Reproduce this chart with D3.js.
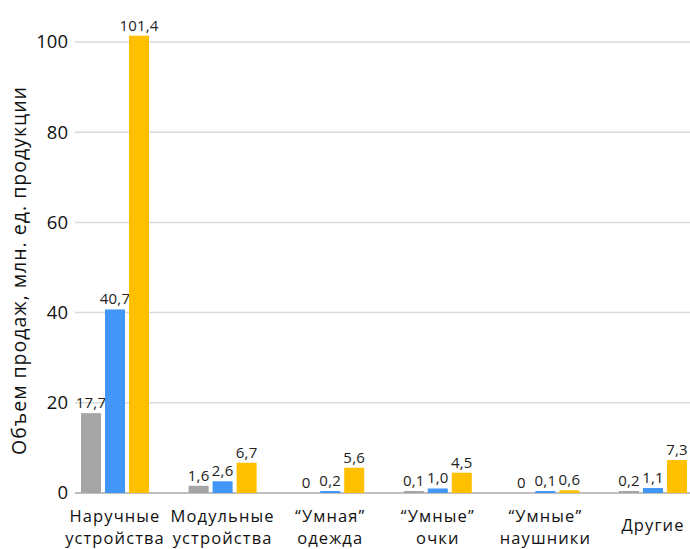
<!DOCTYPE html>
<html><head><meta charset="utf-8">
<script src="https://cdn.jsdelivr.net/npm/d3@7"></script>
<style>body{margin:0;background:#fff}svg{display:block}</style>
</head><body>
<svg id="c" width="690" height="549"></svg>
<script>
const categories = [["Наручные","устройства"],["Модульные","устройства"],["“Умная”","одежда"],["“Умные”","очки"],["“Умные”","наушники"],["Другие"]];
const seriesNames = ["s1","s2","s3"];
const series1 = [17.7, 1.6, 0, 0.1, 0, 0.2];
const series2 = [40.7, 2.6, 0.2, 1.0, 0.1, 1.1];
const series3 = [101.4, 6.7, 5.6, 4.5, 0.6, 7.3];
const yTicks = [0,20,40,60,80,100];
const colors = ["#A5A5A5","#4296F7","#FFC000"];

const svg = d3.select("#c");
const font = "'Open Sans', 'Noto Sans', sans-serif";
const y = d3.scaleLinear().domain([0,100]).range([493,42]);
const x0 = d3.scaleBand().domain(d3.range(categories.length)).range([61.2,706.8]).padding(0);
const x1 = d3.scaleBand().domain(seriesNames).range([0,68]).paddingInner(1/6).paddingOuter(0);
const data = [series1, series2, series3];

// gridlines
svg.append("g").selectAll("line").data(yTicks).join("line")
  .attr("x1",75).attr("x2",690).attr("y1",d=>y(d)).attr("y2",d=>y(d))
  .attr("stroke",d=>d===0?"#BFBFBF":"#D9D9D9").attr("stroke-width",d=>d===0?2:1.5);

// tick labels
svg.append("g").selectAll("text").data(yTicks).join("text")
  .attr("x",68).attr("y",d=>y(d)).attr("dy","0.35em").attr("text-anchor","end")
  .attr("font-family",font).attr("font-size",18.5).attr("fill","#111").text(d=>d);

// axis title
svg.append("text").attr("transform","translate(26,271) rotate(-90)")
  .attr("text-anchor","middle").attr("font-family",font).attr("font-size",19.5).attr("fill","#111")
  .attr("textLength",368).attr("lengthAdjust","spacing")
  .text("Объем продаж, млн. ед. продукции");

const groups = svg.append("g").selectAll("g").data(categories).join("g")
  .attr("transform",(d,i)=>`translate(${x0(i)+(x0.bandwidth()-68)/2},0)`);

groups.each(function(cat,i){
  const g = d3.select(this);
  seriesNames.forEach((s,k)=>{
    const v = data[k][i];
    const top = v>0 ? Math.min(y(v), 491) : 493;
    if(v>0){
      g.append("rect").attr("x",x1(s)).attr("width",x1.bandwidth())
        .attr("y",top).attr("height",493-top).attr("fill",colors[k]);
    }
    g.append("text").attr("x",x1(s)+x1.bandwidth()/2).attr("y",top-5)
      .attr("text-anchor","middle").attr("font-family",font).attr("font-size",15).attr("letter-spacing",0.2).attr("fill","#222")
      .text(d3.format(".1f")(v).replace(".",",").replace(/^0,0$/,"0"));
  });
  const lines = cat.length===2 ? [[cat[0],521.5],[cat[1],544]] : [[cat[0],531]];
  lines.forEach(([txt,yy])=>{
    g.append("text").attr("x",34).attr("y",yy).attr("text-anchor","middle")
      .attr("font-family",font).attr("font-size",16.5).attr("letter-spacing",1.1).attr("fill","#111")
      .text(txt);
  });
});
</script>
</body></html>
